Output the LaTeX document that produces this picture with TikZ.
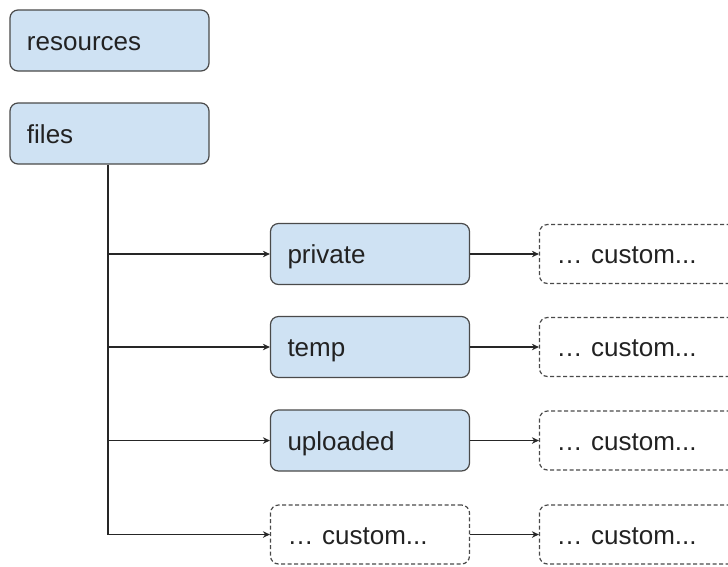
\documentclass[tikz,border=0pt]{standalone}
\usepackage{fontspec}
\setmainfont{Liberation Sans}
\usetikzlibrary{arrows.meta}
\definecolor{boxfill}{HTML}{CFE2F3}
\definecolor{boxline}{HTML}{4A4A4A}
\definecolor{txt}{HTML}{222222}
\tikzset{
  basebox/.style={rectangle, rounded corners=8pt, minimum height=61pt,
    inner xsep=17pt, inner ysep=0pt, text width=165pt, align=left,
    text height=19.5pt, text depth=0pt,
    font=\fontsize{26}{30}\selectfont, text=txt, line width=1.2pt, draw=boxline},
  bluebox/.style={basebox, fill=boxfill},
  dashbox/.style={basebox, fill=white, dash pattern=on 4pt off 2.5pt, minimum height=59pt},
  conn/.style={line width=1.3pt, draw=black!85},
  arr/.style={conn, -{Stealth[length=7pt,width=6.5pt]}}
}
\begin{document}
\begin{tikzpicture}[x=1pt,y=-1pt]
\useasboundingbox (0,0) rectangle (728,566);
\clip (0,0) rectangle (728,566);
\node[bluebox] (res) at (109.5,40.5) {resources};
\node[bluebox] (files) at (109.5,133.5) {files};
\node[bluebox] (priv) at (370,254) {private};
\node[bluebox] (temp) at (370,347) {temp};
\node[bluebox] (upl) at (370,440.5) {uploaded};
\node[dashbox] (cust) at (370,534.5) {… custom...};
\node[dashbox] (r1) at (639,254) {… custom...};
\node[dashbox] (r2) at (639,347) {… custom...};
\node[dashbox] (r3) at (639,440.5) {… custom...};
\node[dashbox] (r4) at (639,534.5) {… custom...};
\coordinate (trunk) at (108,164);
\draw[conn] (files.south -| trunk) -- (108,534.5 |- cust.west);
\draw[arr] (108,0 |- priv.west) -- (priv.west);
\draw[arr] (108,0 |- temp.west) -- (temp.west);
\draw[arr] (108,0 |- upl.west) -- (upl.west);
\draw[arr] (108,0 |- cust.west) -- (cust.west);
\draw[arr] (priv.east) -- (r1.west);
\draw[arr] (temp.east) -- (r2.west);
\draw[arr] (upl.east) -- (r3.west);
\draw[arr] (cust.east) -- (r4.west);
\end{tikzpicture}
\end{document}
